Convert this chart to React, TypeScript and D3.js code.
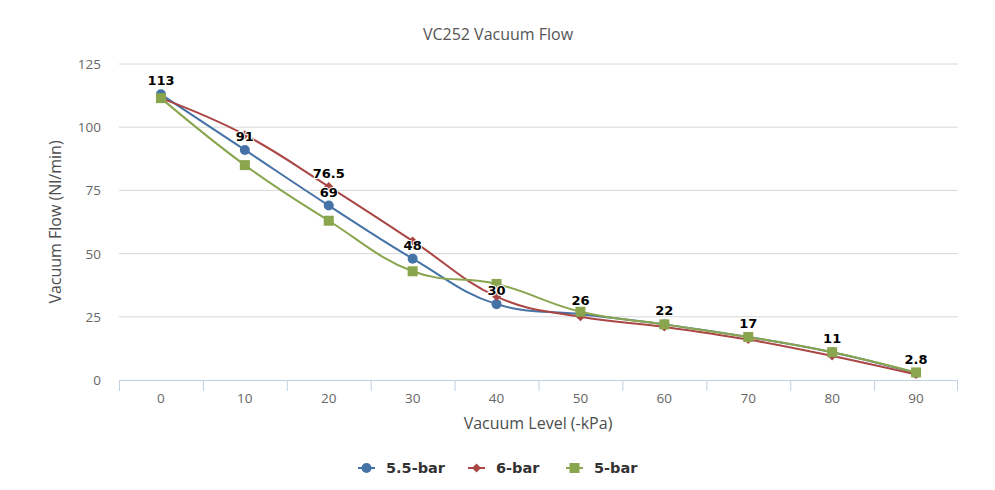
import React from "react";
import * as d3 from "d3";

const categories = ["0", "10", "20", "30", "40", "50", "60", "70", "80", "90"];
const yTicks = [0, 25, 50, 75, 100, 125];
const seriesNames = ["5.5-bar", "6-bar", "5-bar"];
const flow55 = [113, 91, 69, 48, 30, 26, 22, 17, 11, 2.8];
const flow6 = [111.5, 97, 76.5, 55, 33, 25, 21, 16, 9.5, 2.2];
const flow5 = [111.5, 85, 63, 43, 38, 27, 22, 17, 11, 3];
const labels55 = [true, true, true, true, true, true, true, true, true, true];
const labels6 = [false, false, true, false, false, false, false, false, false, false];
const labels5 = [false, false, false, false, false, false, false, false, false, false];
const colors = ["#4572A7", "#AA4643", "#89A54E"];

const W = 995, H = 490;
const M = { left: 119, right: 958, top: 64, bottom: 380 };

function splinePath(pts: [number, number][]) {
  const p = d3.path();
  const smoothing = 1.5, denom = smoothing + 1;
  const rc: ([number, number] | null)[] = [];
  pts.forEach(([x, y], i) => {
    if (i === 0) { p.moveTo(x, y); rc.push(null); return; }
    const last = pts[i - 1];
    const next = pts[i + 1];
    let lcx = x, lcy = y;
    if (next) {
      const [lx, ly] = last, [nx, ny] = next;
      lcx = (smoothing * x + lx) / denom;
      lcy = (smoothing * y + ly) / denom;
      const rcx = (smoothing * x + nx) / denom;
      let rcy = (smoothing * y + ny) / denom;
      if (rcx !== lcx) {
        const corr = ((rcy - lcy) * (rcx - x)) / (rcx - lcx) + y - rcy;
        lcy += corr; rcy += corr;
      }
      if (lcy > ly && lcy > y) { lcy = Math.max(ly, y); rcy = 2 * y - lcy; }
      else if (lcy < ly && lcy < y) { lcy = Math.min(ly, y); rcy = 2 * y - lcy; }
      if (rcy > ny && rcy > y) { rcy = Math.max(ny, y); lcy = 2 * y - rcy; }
      else if (rcy < ny && rcy < y) { rcy = Math.min(ny, y); lcy = 2 * y - rcy; }
      rc.push([rcx, rcy]);
    } else rc.push(null);
    const prc = rc[i - 1] || last;
    p.bezierCurveTo(prc[0], prc[1], lcx, lcy, x, y);
  });
  return p.toString();
}

function Marker({ kind, x, y, color }: { kind: number; x: number; y: number; color: string }) {
  if (kind === 0) return <circle cx={x} cy={y} r={5} fill={color} />;
  if (kind === 1) return <path d={`M${x},${y - 4.5}L${x + 4.5},${y}L${x},${y + 4.5}L${x - 4.5},${y}Z`} fill={color} />;
  return <rect x={x - 5} y={y - 5} width={10} height={10} fill={color} />;
}

export default function App() {
  const x = d3.scaleBand<string>().domain(categories).range([M.left, M.right]);
  const y = d3.scaleLinear().domain([0, 125]).range([M.bottom, M.top]);
  const data = [flow55, flow6, flow5];
  const showLabels = [labels55, labels6, labels5];
  const cx = (c: string) => (x(c) as number) + x.bandwidth() / 2;
  const font = "'Open Sans', 'DejaVu Sans', sans-serif";
  const lblFont = "'DejaVu Sans', sans-serif";
  const legendX = [358, 468, 566];
  return (
    <svg width={W} height={H} style={{ position: "absolute", left: 0, top: 0, background: "#fff" }}>
      <rect width={W} height={H} fill="#fff" />
      <text x={498} y={40} textAnchor="middle" fontFamily={font} fontSize={16} fill="#555">VC252 Vacuum Flow</text>
      {yTicks.map((t) => (
        <g key={t}>
          {t !== 0 && <line x1={M.left} x2={M.right} y1={y(t)} y2={y(t)} stroke="#D8D8D8" strokeWidth={1} />}
          <text x={101} y={y(t) + 5} textAnchor="end" fontFamily={font} fontSize={13.5} fill="#666">{t}</text>
        </g>
      ))}
      <line x1={M.left} x2={M.right} y1={M.bottom + 0.5} y2={M.bottom + 0.5} stroke="#C0D0E0" strokeWidth={1} />
      {categories.map((c, i) => (
        <line key={"t" + i} x1={(x(c) as number) + 0.5} x2={(x(c) as number) + 0.5} y1={M.bottom} y2={M.bottom + 11} stroke="#C0D0E0" />
      ))}
      <line x1={M.right - 0.5} x2={M.right - 0.5} y1={M.bottom} y2={M.bottom + 11} stroke="#C0D0E0" />
      {categories.map((c) => (
        <text key={"x" + c} x={cx(c)} y={403} textAnchor="middle" fontFamily={font} fontSize={13.5} fill="#666">{c}</text>
      ))}
      <text x={538} y={429} textAnchor="middle" fontFamily={font} fontSize={16} fill="#4d4d4d">Vacuum Level (-kPa)</text>
      <text transform={`translate(61,${(M.top + M.bottom) / 2}) rotate(-90)`} textAnchor="middle" fontFamily={font} fontSize={16} fill="#4d4d4d">Vacuum Flow (Nl/min)</text>
      {data.map((vals, s) => {
        const pts = vals.map((v, i) => [cx(categories[i]), y(v)] as [number, number]);
        return (
          <g key={"s" + s}>
            <path d={splinePath(pts)} fill="none" stroke={colors[s]} strokeWidth={2} strokeLinejoin="round" />
            {pts.map(([px, py], i) => <Marker key={i} kind={s} x={px} y={py} color={colors[s]} />)}
          </g>
        );
      })}
      {data.map((vals, s) =>
        vals.map((v, i) =>
          showLabels[s][i] ? (
            <text key={`l${s}-${i}`} x={cx(categories[i])} y={y(v) - 9} textAnchor="middle" fontFamily={lblFont} fontSize={13} fontWeight="bold" fill="#000" stroke="#fff" strokeWidth={2} paintOrder="stroke" strokeLinejoin="round">{v}</text>
          ) : null
        )
      )}
      {seriesNames.map((n, s) => (
        <g key={"lg" + s}>
          <line x1={legendX[s]} x2={legendX[s] + 17} y1={468} y2={468} stroke={colors[s]} strokeWidth={2} />
          <Marker kind={s} x={legendX[s] + 8.5} y={468} color={colors[s]} />
          <text x={legendX[s] + 28} y={473} fontFamily={lblFont} fontSize={14.5} fontWeight="bold" fill="#333">{n}</text>
        </g>
      ))}
    </svg>
  );
}
